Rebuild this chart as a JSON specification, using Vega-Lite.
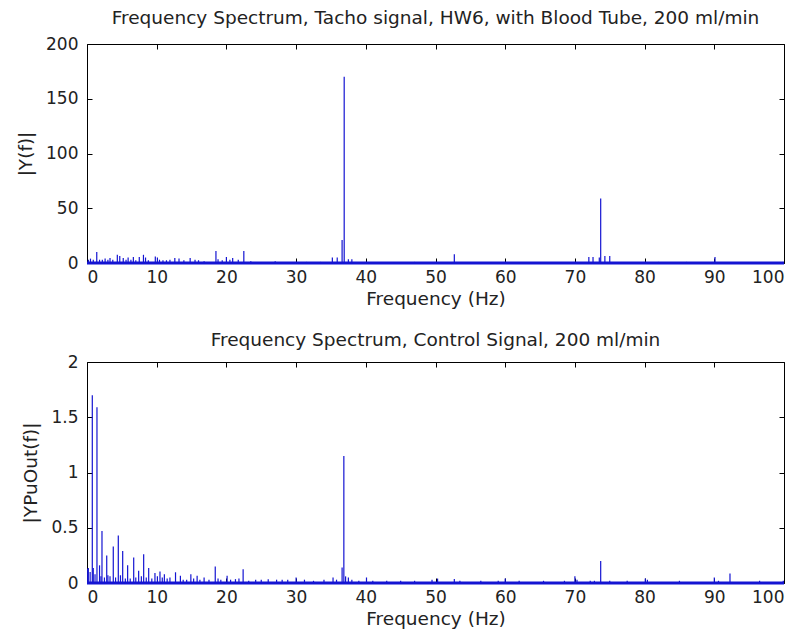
{
  "$schema": "https://vega.github.io/schema/vega-lite/v6.json",
  "background": "white",
  "padding": {"left": 16, "top": 8, "right": 12, "bottom": 5},
  "config": {
    "font": "DejaVu Sans",
    "view": {"stroke": "black", "strokeWidth": 1},
    "axis": {"grid": false, "domain": false, "tickColor": "black", "tickSize": -5, "labelFontSize": 17, "labelColor": "#222", "titleFontSize": 18.5, "titleFontWeight": "normal", "titleColor": "#222", "labelFont": "DejaVu Sans", "titleFont": "DejaVu Sans"},
    "title": {"fontSize": 18.5, "fontWeight": "normal", "color": "#222", "font": "DejaVu Sans", "offset": 8}
  },
  "datasets": {
    "tacho": [
      {"f":0.2,"v":3},{"f":0.5,"v":4},{"f":0.9,"v":3},{"f":1.4,"v":10},{"f":1.8,"v":3},{"f":2.2,"v":3},{"f":2.6,"v":4},{"f":3.0,"v":3},{"f":3.3,"v":4.5},{"f":3.7,"v":3},{"f":4.35,"v":7.5},{"f":4.7,"v":6.5},{"f":5.2,"v":4.5},{"f":5.6,"v":3},{"f":5.9,"v":5},{"f":6.3,"v":3},{"f":6.65,"v":5.5},{"f":7.0,"v":2.5},{"f":7.5,"v":5.5},{"f":8.1,"v":7.5},{"f":8.4,"v":5},{"f":8.8,"v":2.5},{"f":9.8,"v":6},{"f":10.1,"v":5},{"f":10.4,"v":3},{"f":10.9,"v":2.5},{"f":11.4,"v":2.5},{"f":11.9,"v":3},{"f":12.6,"v":4.5},{"f":13.2,"v":4},{"f":13.9,"v":2.5},{"f":14.8,"v":4.5},{"f":15.5,"v":3},{"f":16.0,"v":2.5},{"f":16.8,"v":1.5},{"f":18.5,"v":11},{"f":18.8,"v":3.5},{"f":19.4,"v":2.5},{"f":20.0,"v":5.5},{"f":20.5,"v":3},{"f":20.9,"v":4.5},{"f":21.7,"v":3},{"f":22.5,"v":11},{"f":23.5,"v":1.5},{"f":25,"v":1},{"f":27,"v":1.5},{"f":29.5,"v":1},{"f":31.5,"v":1},{"f":33.5,"v":1},{"f":35.2,"v":5},{"f":35.9,"v":5},{"f":36.6,"v":21},{"f":36.9,"v":170},{"f":37.5,"v":3.5},{"f":38.0,"v":3.5},{"f":40.5,"v":1},{"f":44,"v":1},{"f":47,"v":1},{"f":52.7,"v":8},{"f":55,"v":1},{"f":58,"v":1},{"f":62,"v":1},{"f":65,"v":1},{"f":68,"v":1},{"f":72.0,"v":5.5},{"f":72.6,"v":5.5},{"f":73.5,"v":5},{"f":73.7,"v":59},{"f":74.3,"v":6.5},{"f":75.0,"v":6.5},{"f":77,"v":1},{"f":82,"v":1},{"f":86,"v":1},{"f":90.1,"v":5.5},{"f":95,"v":1},{"f":99,"v":1}
    ],
    "ctrl": [
      {"f":0.1,"v":0.13},{"f":0.19,"v":0.135},{"f":0.45,"v":0.1},{"f":0.76,"v":1.7},{"f":0.9,"v":0.135},{"f":1.15,"v":0.08},{"f":1.43,"v":1.59},{"f":1.8,"v":0.16},{"f":2.0,"v":0.06},{"f":2.15,"v":0.47},{"f":2.5,"v":0.05},{"f":2.83,"v":0.25},{"f":3.0,"v":0.07},{"f":3.3,"v":0.06},{"f":3.77,"v":0.33},{"f":4.1,"v":0.05},{"f":4.49,"v":0.43},{"f":4.8,"v":0.07},{"f":5.12,"v":0.29},{"f":5.5,"v":0.04},{"f":5.83,"v":0.16},{"f":6.2,"v":0.04},{"f":6.7,"v":0.23},{"f":7.0,"v":0.05},{"f":7.41,"v":0.11},{"f":7.8,"v":0.06},{"f":8.13,"v":0.26},{"f":8.5,"v":0.05},{"f":8.85,"v":0.135},{"f":9.3,"v":0.04},{"f":9.75,"v":0.09},{"f":10.1,"v":0.06},{"f":10.47,"v":0.105},{"f":10.8,"v":0.05},{"f":11.1,"v":0.08},{"f":11.5,"v":0.04},{"f":11.9,"v":0.05},{"f":12.7,"v":0.097},{"f":13.4,"v":0.065},{"f":13.8,"v":0.03},{"f":14.3,"v":0.03},{"f":14.9,"v":0.08},{"f":15.3,"v":0.04},{"f":15.8,"v":0.065},{"f":16.2,"v":0.03},{"f":16.8,"v":0.05},{"f":17.5,"v":0.03},{"f":18.4,"v":0.15},{"f":18.8,"v":0.04},{"f":19.2,"v":0.03},{"f":20.1,"v":0.065},{"f":20.6,"v":0.03},{"f":21.3,"v":0.035},{"f":21.8,"v":0.04},{"f":22.4,"v":0.125},{"f":23.2,"v":0.02},{"f":24.2,"v":0.03},{"f":25.0,"v":0.03},{"f":26.0,"v":0.035},{"f":27.2,"v":0.03},{"f":28.0,"v":0.03},{"f":28.8,"v":0.03},{"f":30.0,"v":0.05},{"f":31.2,"v":0.03},{"f":32.5,"v":0.02},{"f":34.0,"v":0.03},{"f":35.3,"v":0.05},{"f":35.8,"v":0.03},{"f":36.6,"v":0.14},{"f":36.85,"v":1.15},{"f":37.1,"v":0.06},{"f":37.5,"v":0.05},{"f":38.0,"v":0.03},{"f":39.0,"v":0.02},{"f":40.1,"v":0.05},{"f":41.0,"v":0.02},{"f":43,"v":0.02},{"f":45,"v":0.02},{"f":47,"v":0.02},{"f":49.5,"v":0.03},{"f":50.3,"v":0.04},{"f":52.7,"v":0.036},{"f":53.5,"v":0.02},{"f":56.5,"v":0.02},{"f":59.0,"v":0.02},{"f":60.0,"v":0.04},{"f":62,"v":0.02},{"f":65.5,"v":0.02},{"f":68.5,"v":0.02},{"f":70.0,"v":0.06},{"f":70.3,"v":0.03},{"f":72.2,"v":0.02},{"f":72.8,"v":0.02},{"f":73.7,"v":0.2},{"f":75.0,"v":0.02},{"f":77.5,"v":0.02},{"f":80.1,"v":0.04},{"f":80.4,"v":0.03},{"f":85,"v":0.02},{"f":90.0,"v":0.05},{"f":90.6,"v":0.02},{"f":92.25,"v":0.085},{"f":96.5,"v":0.02},{"f":99.9,"v":0.02}
    ]
  },
  "vconcat": [
    {
      "title": "Frequency Spectrum, Tacho signal, HW6, with Blood Tube, 200 ml/min",
      "width": 697,
      "height": 219,
      "resolve": {"axis": {"x": "independent", "y": "independent"}},
      "layer": [
        {
          "data": {"values": [{}]},
          "mark": {"type": "rule", "color": "#1414d2", "strokeWidth": 3},
          "encoding": {
            "x": {"datum": 0, "type": "quantitative", "scale": {"domain": [0, 100], "nice": false}, "axis": {"orient": "top", "labels": false, "title": null, "values": [0,10,20,30,40,50,60,70,80,90,100]}},
            "x2": {"datum": 100},
            "y": {"datum": 0, "type": "quantitative", "scale": {"domain": [0, 200], "nice": false}, "axis": {"orient": "right", "labels": false, "title": null, "values": [0,50,100,150,200]}}
          }
        },
        {
          "data": {"name": "tacho"},
          "mark": {"type": "rule", "color": "#1414d2", "strokeWidth": 1.2},
          "encoding": {
            "x": {"field": "f", "type": "quantitative", "axis": {"title": "Frequency (Hz)", "values": [0,10,20,30,40,50,60,70,80,90,100], "labelPadding": 11, "titlePadding": 4}},
            "y": {"field": "v", "type": "quantitative", "axis": {"title": "|Y(f)|", "values": [0,50,100,150,200], "labelPadding": 14, "titlePadding": 10}},
            "y2": {"datum": 0}
          }
        }
      ]
    },
    {
      "title": {"text": "Frequency Spectrum, Control Signal, 200 ml/min", "offset": 4},
      "width": 697,
      "height": 221,
      "resolve": {"axis": {"x": "independent", "y": "independent"}},
      "layer": [
        {
          "data": {"values": [{}]},
          "mark": {"type": "rule", "color": "#1414d2", "strokeWidth": 3},
          "encoding": {
            "x": {"datum": 0, "type": "quantitative", "scale": {"domain": [0, 100], "nice": false}, "axis": {"orient": "top", "labels": false, "title": null, "values": [0,10,20,30,40,50,60,70,80,90,100]}},
            "x2": {"datum": 100},
            "y": {"datum": 0, "type": "quantitative", "scale": {"domain": [0, 2], "nice": false}, "axis": {"orient": "right", "labels": false, "title": null, "values": [0,0.5,1,1.5,2]}}
          }
        },
        {
          "data": {"name": "ctrl"},
          "mark": {"type": "rule", "color": "#1414d2", "strokeWidth": 1.2},
          "encoding": {
            "x": {"field": "f", "type": "quantitative", "axis": {"title": "Frequency (Hz)", "values": [0,10,20,30,40,50,60,70,80,90,100], "labelPadding": 11, "titlePadding": 4}},
            "y": {"field": "v", "type": "quantitative", "axis": {"title": "|YPuOut(f)|", "values": [0,0.5,1,1.5,2], "format": "~g", "labelPadding": 14, "titlePadding": 10}},
            "y2": {"datum": 0}
          }
        }
      ]
    }
  ],
  "spacing": 22
}
